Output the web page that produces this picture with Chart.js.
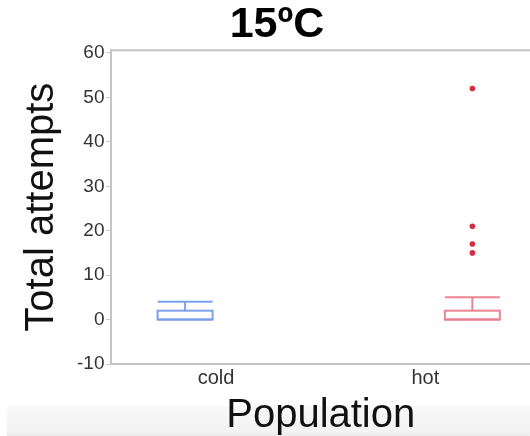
<!DOCTYPE html>
<html>
<head>
<meta charset="utf-8">
<style>
html,body{margin:0;padding:0;background:#fff;}
#wrap{width:530px;height:436px;position:relative;}
</style>
<script src="https://cdn.jsdelivr.net/npm/chart.js@4/dist/chart.umd.min.js"></script>
</head>
<body>
<div id="wrap"><canvas id="c" width="530" height="436"></canvas></div>
<script>
// ---- data ----
const categories = ['cold', 'hot'];
const whiskerLow = [0, 0];
const q1 = [0, 0];
const median = [0, 0];
const q3 = [2, 2];
const whiskerHigh = [4, 5];
const outliersCold = [];
const outliersHot = [52, 21, 17, 15];
const yTicks = [-10, 0, 10, 20, 30, 40, 50, 60];

const outliers = [outliersCold, outliersHot];
const FONT = "'Liberation Sans', Arial, Helvetica, sans-serif";

const bgPlugin = {
  id: 'bg',
  beforeDraw(chart) {
    const ctx = chart.ctx;
    ctx.save();
    ctx.fillStyle = '#ffffff';
    ctx.fillRect(0, 0, chart.width, chart.height);
    const g = ctx.createLinearGradient(0, 406, 0, 436);
    g.addColorStop(0, '#f8f8f8');
    g.addColorStop(0.85, '#f3f3f3');
    g.addColorStop(1, '#ebebeb');
    ctx.fillStyle = g;
    ctx.fillRect(7, 406, chart.width - 7, 30);
    ctx.restore();
  }
};

const boxPlugin = {
  id: 'boxes',
  afterDatasetsDraw(chart, args, opts) {
    const ctx = chart.ctx;
    const xs = chart.scales.x, ys = chart.scales.y;
    const area = chart.chartArea;
    ctx.save();
    // top frame line
    ctx.strokeStyle = '#c4c4c4';
    ctx.lineWidth = 2;
    ctx.beginPath();
    ctx.moveTo(area.left, area.top);
    ctx.lineTo(area.right, area.top);
    ctx.stroke();
    categories.forEach((c, i) => {
      const cx = xs.getPixelForValue(i) + opts.shift[i];
      const hw = opts.halfWidth;
      const col = opts.colors[i];
      ctx.strokeStyle = col;
      ctx.lineWidth = 2;
      const yq1 = ys.getPixelForValue(q1[i]);
      const yq3 = ys.getPixelForValue(q3[i]);
      const ymed = ys.getPixelForValue(median[i]);
      const yhi = ys.getPixelForValue(whiskerHigh[i]);
      const ylo = ys.getPixelForValue(whiskerLow[i]);
      ctx.strokeRect(cx - hw, yq3, hw * 2, yq1 - yq3);
      ctx.beginPath();
      ctx.moveTo(cx - hw, ymed); ctx.lineTo(cx + hw, ymed);
      // upper whisker
      ctx.moveTo(cx, yq3); ctx.lineTo(cx, yhi);
      ctx.moveTo(cx - hw, yhi); ctx.lineTo(cx + hw, yhi);
      // lower whisker
      if (whiskerLow[i] < q1[i]) {
        ctx.moveTo(cx, yq1); ctx.lineTo(cx, ylo);
        ctx.moveTo(cx - hw, ylo); ctx.lineTo(cx + hw, ylo);
      }
      ctx.stroke();
      ctx.fillStyle = opts.pointColors[i];
      outliers[i].forEach(v => {
        ctx.beginPath();
        ctx.arc(cx, ys.getPixelForValue(v), 2.8, 0, Math.PI * 2);
        ctx.fill();
      });
    });
    ctx.restore();
  }
};

new Chart(document.getElementById('c'), {
  type: 'line',
  data: {
    labels: categories,
    datasets: [{ data: [], showLine: false, pointRadius: 0 }]
  },
  plugins: [bgPlugin, boxPlugin],
  options: {
    responsive: false,
    animation: false,
    events: [],
    layout: { padding: { left: 24, right: 0, top: 0, bottom: 0 } },
    plugins: {
      legend: { display: false },
      tooltip: { enabled: false },
      title: {
        display: true,
        text: '15ºC',
        color: '#000',
        font: { family: FONT, size: 43, weight: 'bold', lineHeight: 1.17 },
        padding: { top: 0, bottom: 0 }
      },
      boxes: {
        shift: [-31, 47],
        halfWidth: 27.5,
        colors: ['rgba(120,155,235,0.95)', 'rgba(235,125,140,0.95)'],
        pointColors: ['rgb(90,120,220)', 'rgb(215,45,65)']
      }
    },
    scales: {
      x: {
        type: 'category',
        offset: true,
        grid: { display: true, drawOnChartArea: false, drawTicks: false, color: '#c4c4c4' },
        border: { display: true, color: '#c4c4c4', width: 2 },
        ticks: { color: '#333', padding: 2, font: { family: FONT, size: 20 } },
        title: {
          display: true,
          text: 'Population',
          color: '#111',
          font: { family: FONT, size: 40, lineHeight: 1 },
          padding: { top: 4, bottom: 0 }
        }
      },
      y: {
        type: 'linear',
        min: -10,
        max: 60.6,
        afterBuildTicks(scale) {
          scale.ticks = yTicks.map(v => ({ value: v }));
        },
        grid: { display: true, drawOnChartArea: false, drawTicks: true, tickLength: 5, color: '#c4c4c4' },
        border: { display: true, color: '#c4c4c4', width: 2 },
        ticks: { color: '#333', padding: 2, font: { family: FONT, size: 19 } },
        title: {
          display: true,
          text: 'Total attempts',
          color: '#111',
          font: { family: FONT, size: 40, lineHeight: 0.9 },
          padding: { top: 0, bottom: 15 }
        }
      }
    }
  }
});
</script>
</body>
</html>
